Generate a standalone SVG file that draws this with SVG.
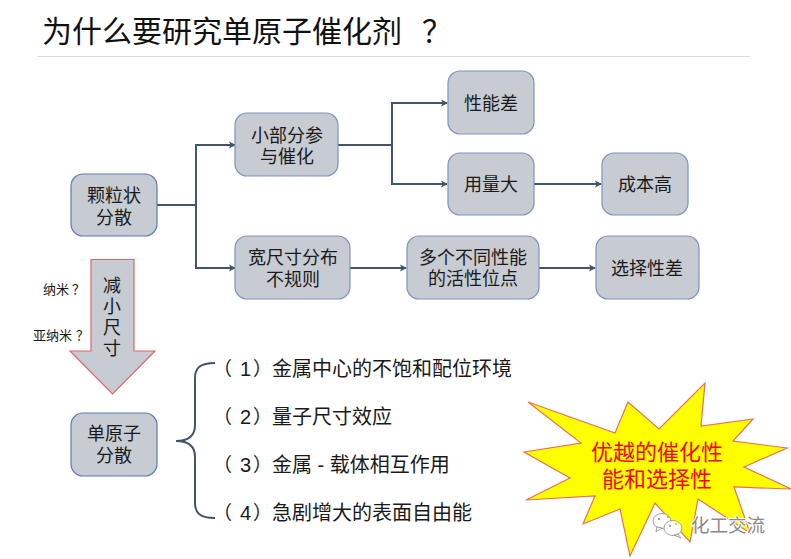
<svg xmlns="http://www.w3.org/2000/svg" width="791" height="559" viewBox="0 0 791 559">
<style>
text{font-family:"Liberation Sans","Noto Sans CJK SC",sans-serif;fill:#1a1a1a}
.n{font-size:18px;text-anchor:middle}
.b{fill:#c7cbd2;stroke:#7f93c0;stroke-width:1.2}
.l{font-size:20px}
.p{font-size:19px}
.s{font-size:13px}
.c{fill:none;stroke:#44546a;stroke-width:2}
.r{font-size:22px;fill:#f00;text-anchor:middle}
.w{fill:#fff;stroke:#8a8a8a;stroke-width:.8}
</style>
<defs><marker id="a" markerWidth="8" markerHeight="8" refX="6" refY="4" orient="auto" markerUnits="userSpaceOnUse"><path d="M0 0.5L7 4L0 7.500L1.500 4Z" fill="#44546a"/></marker></defs>
<rect width="791" height="559" fill="#fff"/>
<text x="42" y="42" style="font-size:30px;fill:#111">为什么要研究单原子催化剂<tspan x="422">？</tspan></text>
<path d="M37 56.500H750" stroke="#dcdcdc" stroke-width="1"/>
<g id="connectors">
<path class="c" d="M157 205H196"/>
<path class="c" d="M196 205V145H235" marker-end="url(#a)"/>
<path class="c" d="M196 205V268H235" marker-end="url(#a)"/>
<path class="c" d="M338 145H392"/>
<path class="c" d="M392 145V103H447" marker-end="url(#a)"/>
<path class="c" d="M392 145V184H447" marker-end="url(#a)"/>
<path class="c" d="M533 184H601" marker-end="url(#a)"/>
<path class="c" d="M350 268H406" marker-end="url(#a)"/>
<path class="c" d="M539 268H595" marker-end="url(#a)"/>
<path class="c" d="M215 363C200 363 195 368 195 378V425C195 434 190 441 176 441C190 441 195 448 195 457V503C195 513 200 518 215 518"/>
</g>
<g id="n1"><rect class="b" x="71" y="174" width="86" height="62" rx="12" style="stroke:#5f7ab8"/><text class="n" x="114" y="202">颗粒状</text><text class="n" x="114" y="224">分散</text></g>
<g id="n2"><rect class="b" x="235" y="113" width="103" height="63" rx="12"/><text class="n" x="287" y="142">小部分参</text><text class="n" x="287" y="163">与催化</text></g>
<g id="n3"><rect class="b" x="235" y="236" width="115" height="63" rx="12"/><text class="n" x="293" y="264">宽尺寸分布</text><text class="n" x="293" y="286">不规则</text></g>
<g id="n4"><rect class="b" x="448" y="71" width="86" height="63" rx="12"/><text class="n" x="491" y="110">性能差</text></g>
<g id="n5"><rect class="b" x="448" y="153" width="86" height="62" rx="12"/><text class="n" x="491" y="191">用量大</text></g>
<g id="n6"><rect class="b" x="602" y="153" width="86" height="62" rx="12"/><text class="n" x="645" y="191">成本高</text></g>
<g id="n7"><rect class="b" x="407" y="236" width="132" height="63" rx="12"/><text class="n" x="473" y="264">多个不同性能</text><text class="n" x="473" y="285">的活性位点</text></g>
<g id="n8"><rect class="b" x="596" y="236" width="103" height="63" rx="12"/><text class="n" x="647" y="275">选择性差</text></g>
<g id="n9"><rect class="b" x="71" y="413" width="86" height="63" rx="12" style="stroke:#5f7ab8"/><text class="n" x="114" y="440">单原子</text><text class="n" x="114" y="462">分散</text></g>
<g id="arrow"><path d="M91 259.500H134V351H155L112.500 394L70 351H91Z" fill="#c7cbd2" stroke="#e06666" stroke-width="1.200"/>
<text class="n" x="112" y="292">减</text><text class="n" x="112" y="313">小</text><text class="n" x="112" y="334">尺</text><text class="n" x="112" y="355">寸</text></g>
<text class="s" x="43" y="294">纳米<tspan x="72">？</tspan></text>
<text class="s" x="33" y="340">亚纳米<tspan x="76">？</tspan></text>
<g id="list">
<text class="l" y="376"><tspan class="p" x="213">（</tspan><tspan x="240">1</tspan><tspan class="p" x="253">）</tspan><tspan x="272">金属中心的不饱和配位环境</tspan></text>
<text class="l" y="424"><tspan class="p" x="213">（</tspan><tspan x="240">2</tspan><tspan class="p" x="253">）</tspan><tspan x="272">量子尺寸效应</tspan></text>
<text class="l" y="472"><tspan class="p" x="213">（</tspan><tspan x="240">3</tspan><tspan class="p" x="253">）</tspan><tspan x="272">金属 - 载体相互作用</tspan></text>
<text class="l" y="520"><tspan class="p" x="213">（</tspan><tspan x="240">4</tspan><tspan class="p" x="253">）</tspan><tspan x="272">急剧增大的表面自由能</tspan></text>
</g>
<g id="star"><path d="M528 402L615 433L628 402L659 429L705 383L701 426L753 419L733 441L787 448L744 467L791 489L734 487L750 533L698 499L690 542L655 503L630 556L620 509L583 524L595 496L526 500L570 478L524 452L581 443Z" fill="#ff0" stroke="#e8705a" stroke-width="1.200"/>
<text class="r" x="657" y="460">优越的催化性</text>
<text class="r" x="657" y="487">能和选择性</text></g>
<g id="watermark"><ellipse class="w" cx="662" cy="521" rx="9" ry="7.500"/><path class="w" d="M657 527L656 532L662 528Z"/><ellipse class="w" cx="673" cy="528" rx="9" ry="7.500"/><path class="w" d="M678 534L681 538L674 535Z"/>
<circle cx="659" cy="519" r="1" fill="#888"/><circle cx="668" cy="517" r="1" fill="#c9a400"/><circle cx="670" cy="526" r="1" fill="#888"/><circle cx="676" cy="524" r="1" fill="#e0c000"/>
<text x="691" y="532" style="font-size:18.500px;fill:#8a8a8a;stroke:#fff;stroke-width:2;paint-order:stroke">化工交流</text></g>
</svg>
